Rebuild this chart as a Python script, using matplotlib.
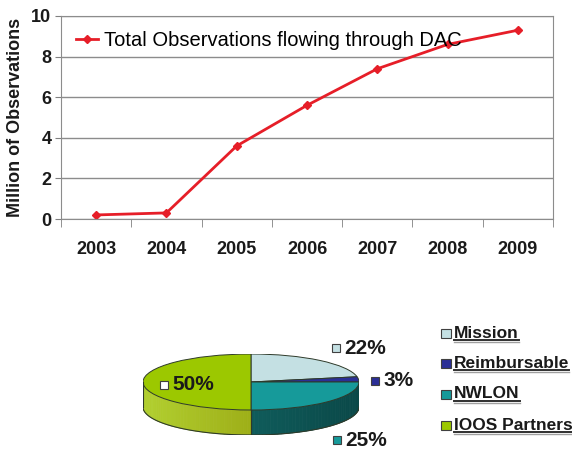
import numpy as np
import matplotlib
matplotlib.use("Agg")
import matplotlib.pyplot as plt
from matplotlib.patches import Wedge, Polygon, Rectangle
from matplotlib.lines import Line2D

plt.rcParams['font.family'] = ['Liberation Sans', 'DejaVu Sans']

# line chart data
years = ['2003', '2004', '2005', '2006', '2007', '2008', '2009']
observations = [0.2, 0.3, 3.6, 5.6, 7.4, 8.6, 9.3]
line_label = 'Total Observations flowing through DAC'

# pie chart data
sources = ['Mission', 'Reimbursable', 'NWLON', 'IOOS Partners']
shares = [22, 3, 25, 50]
top_colors = ['#c4e0e3', '#2b2f96', '#169a9a', '#9cc800']
side_dark = ['#8fb5b5', '#1c1f66', '#0a4848', '#8a8e00']
side_light = ['#a9cccc', '#262a80', '#15706e', '#b2d030']
label_keys = ['#c4e0e3', '#2b2f96', '#169a9a', '#ffffff']

W, H = 572, 450
fig = plt.figure(figsize=(W / 100, H / 100), dpi=100)


def px_axes(left, top, right, bottom):
    return fig.add_axes([left / W, 1 - bottom / H, (right - left) / W, (bottom - top) / H])


# ---- line chart ----
ax = px_axes(61, 16, 553, 219)
x = np.arange(len(years))
ax.plot(x, observations, color='#e61e28', lw=2, marker='D', ms=4.5,
        label=line_label)
ax.set_xlim(-0.5, len(years) - 0.5)
ax.set_ylim(0, 10)
ax.set_yticks([0, 2, 4, 6, 8, 10])
ax.set_xticks(x)
ax.set_xticklabels(years)
ax.set_xticks(np.arange(-0.5, len(years)), minor=True)
ax.tick_params(axis='x', which='major', length=0, pad=16)
ax.tick_params(axis='x', which='minor', length=6, color='#808080', direction='out')
ax.tick_params(axis='y', length=4, color='#808080', pad=3)
for lab in ax.get_xticklabels() + ax.get_yticklabels():
    lab.set_fontsize(13)
    lab.set_fontweight('bold')
    lab.set_color('#1a1a1a')
ax.yaxis.grid(True, color='#8c8c8c', lw=1)
ax.set_axisbelow(True)
for s in ax.spines.values():
    s.set_color('#8c8c8c')
ax.set_ylabel('Million of Observations', fontsize=13, fontweight='bold',
              labelpad=5, color='#1a1a1a')
ax.legend(loc='upper left', frameon=False, fontsize=14.5, handlelength=1.1,
          handletextpad=0.3, borderaxespad=0.35)

# ---- 3D pie ----
cx, cy, rx, ry, depth = 251, 382, 108, 28, 25
pax = px_axes(cx - rx, cy - ry, cx + rx, cy + ry + depth)
d = depth / ry
pax.set_xlim(-1, 1)
pax.set_ylim(-1 - d, 1)
pax.axis('off')

fracs = np.array(shares) / sum(shares)
ends = 90 - 360 * np.cumsum(fracs)
starts = np.concatenate([[90], ends[:-1]])

# sides (front half only), shaded in strips
for i in range(len(shares)):
    a0, a1 = ends[i], starts[i]
    for shift in (0, 360, -360):
        b0, b1 = max(a0 + shift, 180), min(a1 + shift, 360)
        if b1 <= b0:
            continue
        ts = np.linspace(b0, b1, max(int((b1 - b0) / 2), 2))
        c_dark = np.array(matplotlib.colors.to_rgb(side_dark[i]))
        c_light = np.array(matplotlib.colors.to_rgb(side_light[i]))
        for t0, t1 in zip(ts[:-1], ts[1:]):
            tm = np.radians((t0 + t1) / 2)
            k = (1 - np.cos(tm)) / 2
            col = c_dark + (c_light - c_dark) * k
            r0, r1 = np.radians(t0), np.radians(t1)
            pts = [(np.cos(r0), np.sin(r0)), (np.cos(r1), np.sin(r1)),
                   (np.cos(r1), np.sin(r1) - d), (np.cos(r0), np.sin(r0) - d)]
            pax.add_patch(Polygon(pts, closed=True, fc=col, ec=col, lw=0.6))
        for b in (b0, b1):
            if 180 < b < 360:
                rb = np.radians(b)
                pax.plot([np.cos(rb)] * 2, [np.sin(rb), np.sin(rb) - d],
                         color='#2e3a2a', lw=0.8)
tt = np.radians(np.linspace(180, 360, 120))
pax.plot(np.cos(tt), np.sin(tt) - d, color='#2e3a2a', lw=0.8)
pax.plot([-1, -1], [0, -d], color='#2e3a2a', lw=0.8)
pax.plot([1, 1], [0, -d], color='#2e3a2a', lw=0.8)

# top faces
for i in range(len(shares)):
    pax.add_patch(Wedge((0, 0), 1, ends[i], starts[i], fc=top_colors[i],
                        ec='#2e3a2a', lw=0.7))

# ---- overlay for labels and legend ----
ov = fig.add_axes([0, 0, 1, 1])
ov.set_xlim(0, W)
ov.set_ylim(H, 0)
ov.axis('off')

pct_pos = [(336, 348), (375, 381), (337, 440), (164, 385)]
for i, (px, py) in enumerate(pct_pos):
    ov.add_patch(Rectangle((px - 4, py - 4), 8, 8, fc=label_keys[i],
                           ec='#404040', lw=0.8))
    ov.text(px + 8, py, f'{shares[i]}%', fontsize=15, fontweight='bold',
            va='center', ha='left', color='#1a1a1a')

leg_y = [333, 363, 394, 425]
leg_texts = []
for i, name in enumerate(sources):
    ov.add_patch(Rectangle((441, leg_y[i] - 4.5), 10, 9, fc=top_colors[i],
                           ec='#404040', lw=0.8))
    t = ov.text(454, leg_y[i], name, fontsize=12.5, fontweight='bold',
                va='center', ha='left', color='#1a1a1a')
    leg_texts.append(t)

fig.canvas.draw()
r = fig.canvas.get_renderer()
for t in leg_texts:
    bb = t.get_window_extent(r)
    yb = H - bb.y0 - 1
    ov.add_line(Line2D([bb.x0, bb.x1], [yb, yb], color='#303030', lw=1.4))
    ov.add_line(Line2D([bb.x0, bb.x1], [yb + 2, yb + 2], color='#a0a0a0', lw=1.0))

fig.savefig('out.png', dpi=100)
